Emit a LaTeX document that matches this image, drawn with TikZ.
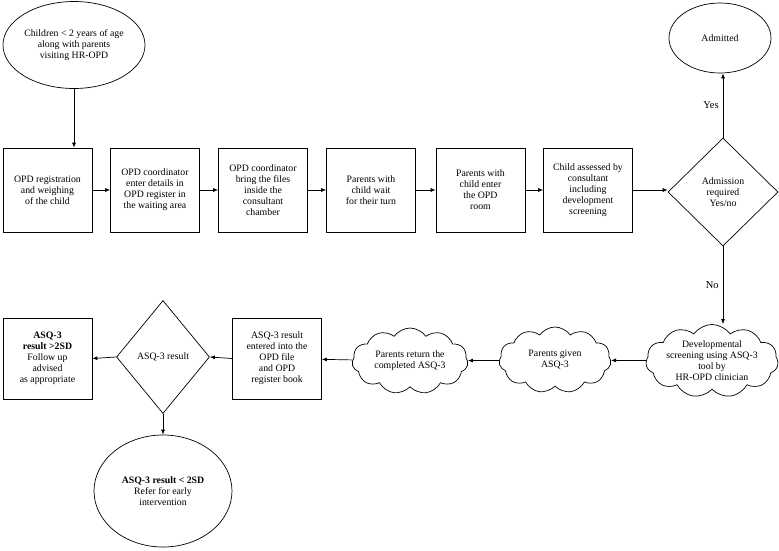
\documentclass[tikz,border=0pt]{standalone}
\usepackage{fontspec}
\setmainfont{Liberation Serif}
\newfontfamily\chartfont{Liberation Serif}
\usetikzlibrary{shapes.geometric,shapes.symbols,arrows.meta}
\begin{document}
\begin{tikzpicture}[x=1pt,y=-1pt,
  every node/.style={font=\chartfont\fontsize{9.8}{11}\selectfont, align=center, inner sep=0pt},
  stepbox/.style={draw, line width=0.7pt, minimum width=89pt, minimum height=84pt},
  oval/.style={draw, line width=0.7pt, ellipse},
  choice/.style={draw, line width=0.7pt, diamond, aspect=1},
  puff/.style={draw, line width=0.7pt, cloud, cloud puffs=11, cloud puff arc=110, cloud ignores aspect},
  flow/.style={line width=0.7pt, -{Latex[length=5pt,width=4pt]}},
  lbl/.style={font=\chartfont\fontsize{10.5}{12}\selectfont}]
\useasboundingbox (0,0) rectangle (779,550);

% start of the visit
\node[oval, minimum width=142pt, minimum height=87pt] (start) at (74,45)
  {Children < 2 years of age\\along with parents\\visiting HR-OPD};

% top row of steps
\node[stepbox] (reg)    at (47.5,190) {OPD registration\\and weighing\\of the child};
\node[stepbox] (coord)  at (155,190)  {OPD coordinator\\enter details in\\OPD register in\\the waiting area};
\node[stepbox] (files)  at (263,190)  {OPD coordinator\\bring the files\\inside the\\consultant\\chamber};
\node[stepbox] (wait)   at (371,190)  {Parents with\\child wait\\for their turn};
\node[stepbox] (enter)  at (480.5,190){Parents with\\child enter\\the OPD\\room};
\node[stepbox] (assess) at (588,190)  {Child assessed by\\consultant\\including\\development\\screening};
\node[choice, minimum width=110pt, minimum height=108pt] (adm) at (723,192)
  {Admission\\required\\Yes/no};
\node[oval, minimum width=102pt, minimum height=70pt] (admitted) at (720,38) {Admitted};

% screening row (right to left)
\node[puff, minimum width=112pt, minimum height=68pt] (screen) at (712,361)
  {Developmental\\screening using ASQ-3\\tool by\\HR-OPD clinician};
\node[puff, minimum width=112pt, minimum height=66pt] (given) at (555,360)
  {Parents given\\ASQ-3};
\node[puff, minimum width=116pt, minimum height=66pt] (returned) at (410,361)
  {Parents return the\\completed ASQ-3};
\node[stepbox, minimum height=81pt] (entered) at (277,358.5)
  {ASQ-3 result\\entered into the\\OPD file\\and OPD\\register book};
\node[choice, minimum width=93pt, minimum height=113pt] (result) at (163,357) {ASQ-3 result};
\node[stepbox, minimum height=81pt] (follow) at (47.5,358.5)
  {\textbf{ASQ-3}\\\textbf{result >2SD}\\Follow up\\advised\\as appropriate};
\node[oval, minimum width=138pt, minimum height=112pt] (refer) at (163,491)
  {\textbf{ASQ-3 result < 2SD}\\Refer for early\\intervention};

% connectors
\draw[flow] (start.south) -- (start.south |- reg.north);
\draw[flow] (reg) -- (coord);
\draw[flow] (coord) -- (files);
\draw[flow] (files) -- (wait);
\draw[flow] (wait) -- (enter);
\draw[flow] (enter) -- (assess);
\draw[flow] (assess.east) -- (adm.west |- assess.east);
\draw[flow] (adm.north) -- (adm.north |- admitted.south) node[lbl, midway, left=4pt] {Yes};
\draw[flow] (adm.south) -- (adm.south |- screen.north) node[lbl, midway, left=4pt] {No};
\draw[flow] (screen) -- (given);
\draw[flow] (given) -- (returned);
\draw[flow] (returned) -- (entered);
\draw[flow] (entered.west) -- (result.east);
\draw[flow] (result.west) -- (follow.east);
\draw[flow] (result.south) -- (refer.north);
\end{tikzpicture}
\end{document}
